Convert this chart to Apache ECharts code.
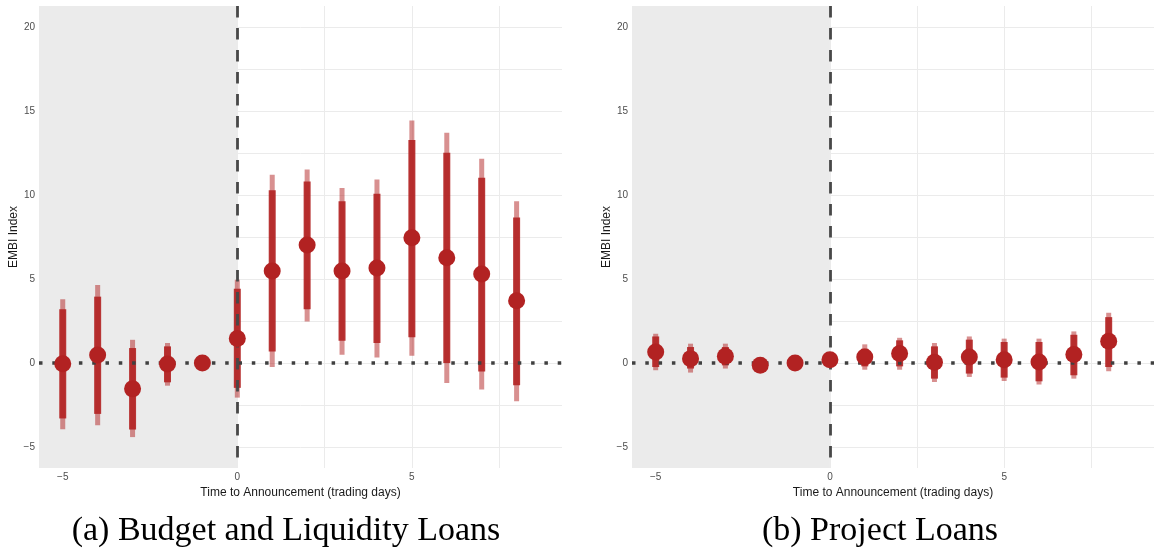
<!DOCTYPE html>
<html>
<head>
<meta charset="utf-8">
<script src="https://cdn.jsdelivr.net/npm/echarts@6/dist/echarts.min.js"></script>
<style>
  html, body { margin: 0; padding: 0; background: #fff; }
  #chart { width: 1154px; height: 550px; }
</style>
</head>
<body>
<div id="chart"></div>
<script>
// event days
var days = [-5, -4, -3, -2, -1, 0, 1, 2, 3, 4, 5, 6, 7, 8];

// (a) budget and liquidity loans
var budgetEst  = [-0.05, 0.47, -1.54, -0.06, 0, 1.46, 5.47, 7.02, 5.47, 5.65, 7.45, 6.26, 5.3, 3.7];
var budgetHi90 = [3.2, 3.95, 0.89, 0.99, null, 4.42, 10.28, 10.81, 9.63, 10.08, 13.28, 12.51, 11.03, 8.66];
var budgetLo90 = [-3.3, -3.03, -3.96, -1.15, null, -1.48, 0.69, 3.2, 1.32, 1.19, 1.54, 0.0, -0.5, -1.33];
var budgetHi95 = [3.8, 4.64, 1.38, 1.19, null, 4.96, 11.21, 11.52, 10.42, 10.93, 14.43, 13.7, 12.16, 9.63];
var budgetLo95 = [-3.95, -3.7, -4.41, -1.35, null, -2.06, -0.24, 2.47, 0.49, 0.33, 0.43, -1.19, -1.58, -2.28];

// (b) project loans
var projectEst  = [0.65, 0.26, 0.4, -0.14, 0, 0.2, 0.36, 0.56, 0.04, 0.36, 0.2, 0.06, 0.5, 1.29];
var projectHi90 = [1.58, 0.95, 0.95, null, null, null, 0.85, 1.35, 0.99, 1.39, 1.25, 1.25, 1.68, 2.73];
var projectLo90 = [-0.24, -0.33, -0.14, null, null, null, -0.2, -0.2, -0.93, -0.63, -0.87, -1.09, -0.73, -0.24];
var projectHi95 = [1.74, 1.15, 1.15, null, null, null, 1.11, 1.5, 1.19, 1.58, 1.45, 1.45, 1.88, 2.99];
var projectLo95 = [-0.43, -0.57, -0.33, null, null, null, -0.4, -0.4, -1.13, -0.83, -1.07, -1.28, -0.93, -0.49];

// axes
var xRange = [-5.68, 9.3];
var yRange = [-6.25, 21.25];
var xTicks = [-5, -2.5, 0, 2.5, 5, 7.5];
var xLabels = [-5, 0, 5];
var yTicks = [-5, -2.5, 0, 2.5, 5, 7.5, 10, 12.5, 15, 17.5, 20];
var yLabels = [-5, 0, 5, 10, 15, 20];

var captions = ['(a) Budget and Liquidity Loans', '(b) Project Loans'];
var xTitle = 'Time to Announcement (trading days)';
var yTitle = 'EMBI Index';

var panels = [
  { est: budgetEst, hi90: budgetHi90, lo90: budgetLo90, hi95: budgetHi95, lo95: budgetLo95 },
  { est: projectEst, hi90: projectHi90, lo90: projectLo90, hi95: projectHi95, lo95: projectLo95 }
];

var RED = '#b22222';

function ranges(hi, lo) {
  var out = [];
  for (var i = 0; i < days.length; i++) {
    if (hi[i] != null) out.push([days[i], lo[i], hi[i]]);
  }
  return out;
}

function rangeSeries(idx, data, w, color, z) {
  return {
    type: 'custom',
    xAxisIndex: idx,
    yAxisIndex: idx,
    z: z,
    silent: true,
    data: data,
    encode: { x: 0, y: [1, 2] },
    renderItem: function (params, api) {
      var top = api.coord([api.value(0), api.value(2)]);
      var bot = api.coord([api.value(0), api.value(1)]);
      return {
        type: 'rect',
        shape: { x: top[0] - w / 2, y: top[1], width: w, height: bot[1] - top[1] },
        style: { fill: color }
      };
    }
  };
}

var grids = [
  { left: 39, top: 6, width: 523, height: 462 },
  { left: 632, top: 6, width: 523, height: 462 }
];

var xAxes = [], yAxes = [], series = [], graphics = [];

grids.forEach(function (g, i) {
  xAxes.push({
    type: 'value', gridIndex: i, min: xRange[0], max: xRange[1],
    name: xTitle, nameLocation: 'middle', nameGap: 14,
    nameTextStyle: { fontFamily: 'Liberation Sans', fontSize: 12, color: '#1a1a1a' },
    axisLine: { show: false },
    axisTick: { show: false, customValues: xTicks },
    axisLabel: { customValues: xLabels, margin: 4, fontFamily: 'Liberation Sans', fontSize: 10, color: '#4d4d4d',
      formatter: function (v) { return String(v).replace('-', '\u2212'); } },
    splitLine: { show: true, lineStyle: { color: '#ebebeb', width: 1 } }
  });
  yAxes.push({
    type: 'value', gridIndex: i, min: yRange[0], max: yRange[1],
    name: yTitle, nameLocation: 'middle', nameGap: 19,
    nameTextStyle: { fontFamily: 'Liberation Sans', fontSize: 12, color: '#1a1a1a' },
    axisLine: { show: false },
    axisTick: { show: false, customValues: yTicks },
    axisLabel: { customValues: yLabels, margin: 4, fontFamily: 'Liberation Sans', fontSize: 10, color: '#4d4d4d',
      formatter: function (v) { return String(v).replace('-', '\u2212'); } },
    splitLine: { show: true, lineStyle: { color: '#ebebeb', width: 1 } }
  });

  var p = panels[i];

  // pre-announcement shading and reference lines
  series.push({
    type: 'scatter', xAxisIndex: i, yAxisIndex: i, data: [], z: 1, silent: true,
    markArea: {
      silent: true,
      itemStyle: { color: '#ebebeb' },
      data: [[{ xAxis: xRange[0], yAxis: yRange[0] }, { xAxis: 0, yAxis: yRange[1] }]]
    }
  });
  series.push({
    type: 'scatter', xAxisIndex: i, yAxisIndex: i, data: [], z: 2, silent: true,
    markLine: {
      silent: true, symbol: 'none', label: { show: false },
      data: [
        { yAxis: 0, lineStyle: { color: '#404040', width: 3.5, type: [3.5, 9.8], cap: 'butt' } },
        [{ coord: [0, yRange[1]] }, { coord: [0, yRange[0]], lineStyle: { color: '#484848', width: 2.8, type: [11.5, 10.5], cap: 'butt' } }]
      ]
    }
  });

  series.push(rangeSeries(i, ranges(p.hi95, p.lo95), 5, 'rgba(178,34,34,0.5)', 3));
  series.push(rangeSeries(i, ranges(p.hi90, p.lo90), 7, 'rgba(178,34,34,0.9)', 4));

  series.push({
    type: 'scatter', xAxisIndex: i, yAxisIndex: i, z: 5, silent: true,
    symbol: 'circle', symbolSize: 17,
    itemStyle: { color: RED, opacity: 1 },
    data: days.map(function (d, k) { return [d, p.est[k]]; })
  });

  graphics.push({
    type: 'text',
    x: i === 0 ? 286 : 880, y: 531,
    style: {
      text: captions[i], fill: '#000',
      font: '34px "Liberation Serif"',
      textAlign: 'center', textVerticalAlign: 'middle'
    }
  });
});

var chart = echarts.init(document.getElementById('chart'), null, { renderer: 'canvas' });
chart.setOption({
  animation: false,
  backgroundColor: '#fff',
  grid: grids,
  xAxis: xAxes,
  yAxis: yAxes,
  series: series,
  graphic: graphics
});
window.addEventListener('resize', function () { chart.resize(); });
</script>
</body>
</html>
